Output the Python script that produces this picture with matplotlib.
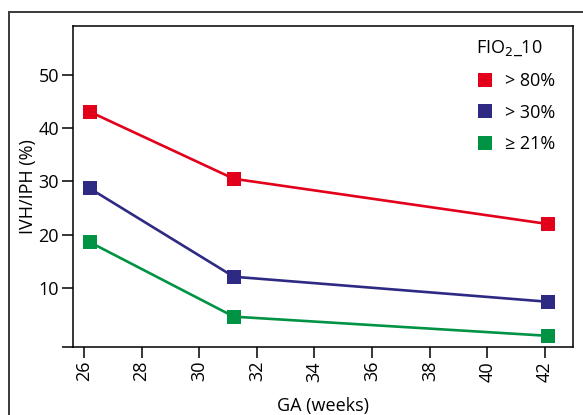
import numpy as np
import matplotlib
matplotlib.use("Agg")
import matplotlib.pyplot as plt
from matplotlib.patches import Rectangle
from matplotlib.lines import Line2D

plt.rcParams['font.family'] = ['Open Sans', 'DejaVu Sans']

# data
ga = [26.2, 31.2, 42.1]
ivh_80 = [43.1, 30.5, 22.0]
ivh_30 = [28.7, 12.1, 7.4]
ivh_21 = [18.6, 4.6, 1.0]

labels = ['> 80%', '> 30%', '≥ 21%']
colors = ['#e3001b', '#2e2a84', '#009343']

xticks = [26, 28, 30, 32, 34, 36, 38, 40, 42]
yticks = [10, 20, 30, 40, 50]

fs = 13

fig = plt.figure(figsize=(5.83, 4.15), dpi=100)

# outer frame
fig.patches.append(Rectangle((9 / 583, -0.1), 1.2, 1 - 12 / 415 + 0.1,
                             transform=fig.transFigure, fill=False,
                             edgecolor='#3a3a3a', linewidth=1.4))

ax = fig.add_axes([73 / 583, 1 - 347 / 415, 500 / 583, 321 / 415])

for y, c in zip([ivh_80, ivh_30, ivh_21], colors):
    ax.plot(ga, y, color=c, linewidth=1.9, marker='s', markersize=10,
            markeredgewidth=0)

ymin, ymax = -1.1, 59.2
ax.set_xlim(25.62, 42.97)
ax.set_ylim(ymin, ymax)

ax.set_xticks(xticks)
ax.set_xticklabels([str(t) for t in xticks], rotation=90)
ax.set_yticks([ymin] + yticks)
ax.set_yticklabels([''] + [str(t) for t in yticks])
ax.tick_params(direction='out', length=8, width=1.1, labelsize=fs, pad=2)
ax.yaxis.get_major_ticks()[-1].tick1line.set_color(colors[0])

for s in ax.spines.values():
    s.set_linewidth(1.1)

ax.set_ylabel('IVH/IPH (%)', fontsize=fs, labelpad=1)
ax.set_xlabel('GA (weeks)', fontsize=fs, labelpad=11)

handles = [Line2D([], [], linestyle='none', marker='s', markersize=10,
                  markeredgewidth=0, color=c) for c in colors]
leg = ax.legend(handles, labels, title='FIO$_2$_10', loc='upper left',
                frameon=False, fontsize=fs, title_fontsize=fs,
                handletextpad=0.6, labelspacing=0.75, handlelength=1.0,
                borderpad=0, borderaxespad=0,
                bbox_to_anchor=(403 / 500, 1 - 13 / 321), alignment='left')

fig.savefig('out.png', dpi=100)
